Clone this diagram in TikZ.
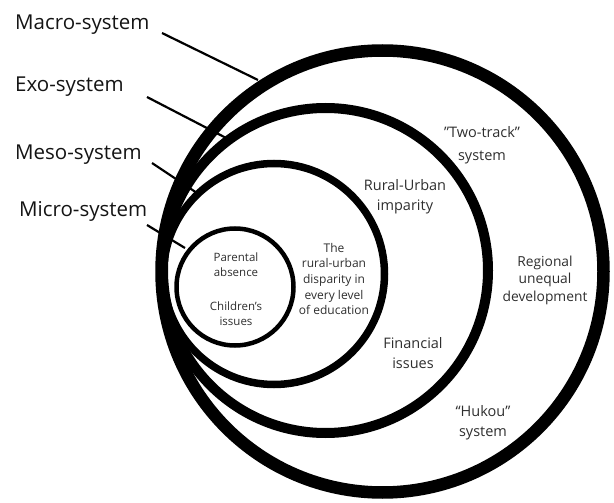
\documentclass[tikz,border=0pt]{standalone}
\usepackage{fontspec}
\setmainfont{Open Sans}
\definecolor{txt}{HTML}{2E2E2E}
\begin{document}
\begin{tikzpicture}[x=1pt,y=-1pt,
  ring/.style={draw=black},
  sys/.style={anchor=west,font=\fontsize{20.5}{22}\selectfont,text=black!92,inner sep=0pt},
  lbl/.style={align=center,text=txt,inner sep=0pt},
  lead/.style={draw=black,line width=2.2pt}]
\useasboundingbox (0,0) rectangle (614,503);
% circles
\draw[ring,line width=12.5pt] (382.5,271.5) circle (221);
\draw[ring,line width=10pt] (325.5,270.5) circle (162.5);
\draw[ring,line width=7.5pt] (274,274) circle (110.5);
\draw[ring,line width=4.5pt] (235,287) circle (58.5);
% system labels
\node[sys] (macro) at (15,25) {Macro-system};
\node[sys] (exo) at (15,87) {Exo-system};
\node[sys] (meso) at (15,155) {Meso-system};
\node[sys] (micro) at (19,211) {Micro-system};
\coordinate (macroS) at (162,33);
\coordinate (macroE) at (258,80);
\coordinate (exoS) at (147,97);
\coordinate (exoE) at (230,140);
\coordinate (mesoS) at (152,163);
\coordinate (mesoE) at (197,193);
\coordinate (microS) at (147,225);
\coordinate (microE) at (185,248);
\draw[lead] (macroS) -- (macroE);
\draw[lead] (exoS) -- (exoE);
\draw[lead] (mesoS) -- (mesoE);
\draw[lead] (microS) -- (microE);
% inner texts
\node[lbl,font=\fontsize{11.5}{15}\selectfont] (par) at (236,265) {Parental\\absence};
\node[lbl,font=\fontsize{11.5}{15}\selectfont] (chi) at (236,314) {Children's\\issues};
\node[lbl,font=\fontsize{12}{15.7}\selectfont] (the) at (334,279) {The\\rural-urban\\disparity in\\every level\\of education};
\node[lbl,font=\fontsize{14.5}{20}\selectfont] (rur) at (405,197) {Rural-Urban\\imparity};
\node[lbl,font=\fontsize{14.5}{20}\selectfont] (fin) at (413,353) {Financial\\issues};
\node[lbl,font=\fontsize{14.5}{23}\selectfont] (two) at (482,145) {\symbol{34}Two-track\symbol{34}\\system};
\node[lbl,font=\fontsize{13.8}{17.5}\selectfont] (reg) at (545,280) {Regional\\unequal\\development};
\node[lbl,font=\fontsize{14.5}{20}\selectfont] (huk) at (483,423) {“Hukou”\\system};
\end{tikzpicture}
\end{document}
